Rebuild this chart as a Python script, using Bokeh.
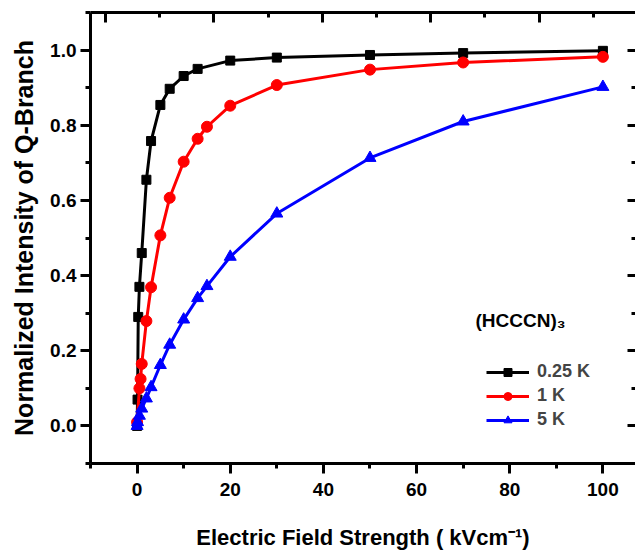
from bokeh.plotting import figure
from bokeh.models import (Range1d, LinearAxis, SingleIntervalTicker, Legend, LegendItem, Label,
                          NumeralTickFormatter, CustomJSTickFormatter)
from bokeh.embed import file_html
from bokeh.resources import INLINE

# ---- data ----
field_025K = [0, 0.1, 0.25, 0.5, 1, 2, 3, 5, 7, 10, 13, 20, 30, 50, 70, 100]
inten_025K = [0, 0.07, 0.29, 0.37, 0.46, 0.655, 0.758, 0.854, 0.897, 0.931, 0.95, 0.972, 0.98, 0.987, 0.992, 0.998]

field_1K = [0, 0.5, 0.75, 1, 2, 3, 5, 7, 10, 13, 15, 20, 30, 50, 70, 100]
inten_1K = [0.01, 0.10, 0.125, 0.165, 0.279, 0.369, 0.507, 0.607, 0.703, 0.764, 0.796, 0.852, 0.907, 0.948, 0.967, 0.982]

field_5K = [0, 0.1, 0.5, 1, 2, 3, 5, 7, 10, 13, 15, 20, 30, 50, 70, 100]
inten_5K = [0, 0.01, 0.027, 0.046, 0.073, 0.103, 0.162, 0.216, 0.283, 0.34, 0.372, 0.45, 0.565, 0.713, 0.81, 0.902]

legend_title = "(HCCCN)\u2083"
series_labels = ["0.25 K", "1 K", "5 K"]
x_title = "Electric Field Strength ( kVcm\u207b\u00b9)"
y_title = "Normalized Intensity of Q-Branch"

FONT = "Liberation Sans"

p = figure(width=635, height=552, output_backend="svg", toolbar_location=None,
           x_range=Range1d(-10, 107.0), y_range=Range1d(-0.1, 1.1),
           min_border_left=90, min_border_right=0, min_border_top=12, min_border_bottom=89,
           x_axis_location=None, y_axis_location=None)
p.outline_line_color = None
p.grid.visible = False
p.background_fill_color = "white"
p.border_fill_color = "white"

p.extra_x_ranges = {"top": Range1d(-2.78, 97.8)}

def style_axis(ax, tick_in, tick_out):
    ax.axis_line_width = 3
    ax.axis_line_color = "black"
    ax.major_tick_line_width = 3
    ax.minor_tick_line_width = 3
    ax.major_tick_in = tick_in
    ax.major_tick_out = tick_out
    ax.minor_tick_in = tick_in // 2
    ax.minor_tick_out = tick_out // 2
    ax.major_label_text_font = FONT
    ax.major_label_text_font_style = "bold"
    ax.major_label_text_font_size = "19px"
    ax.major_label_text_color = "black"
    ax.axis_label_text_font = FONT
    ax.axis_label_text_font_style = "bold"
    ax.axis_label_text_color = "black"

bottom = LinearAxis(ticker=SingleIntervalTicker(interval=20, num_minor_ticks=2), axis_label=x_title)
style_axis(bottom, 0, 10)
bottom.major_label_standoff = 9
bottom.axis_label_standoff = 26
bottom.axis_label_text_font_size = "22px"
p.add_layout(bottom, "below")

left = LinearAxis(ticker=SingleIntervalTicker(interval=0.2, num_minor_ticks=2), axis_label=y_title,
                  formatter=NumeralTickFormatter(format="0.0"))
style_axis(left, 0, 10)
left.major_label_standoff = 4
left.axis_label_standoff = 9
left.axis_label_text_font_size = "25px"
p.add_layout(left, "left")

blank = CustomJSTickFormatter(code="return ''")

top = LinearAxis(x_range_name="top", ticker=SingleIntervalTicker(interval=20, num_minor_ticks=2),
                 formatter=blank)
style_axis(top, 10, 0)
top.major_label_standoff = 0
p.add_layout(top, "above")

right = LinearAxis(ticker=SingleIntervalTicker(interval=0.2, num_minor_ticks=2), formatter=blank)
style_axis(right, 8, 0)
right.axis_line_alpha = 0
right.major_label_standoff = 0
p.add_layout(right, "right")

series = [
    (field_025K, inten_025K, "black", "square", 9),
    (field_1K, inten_1K, "#ff0000", "circle", 11),
    (field_5K, inten_5K, "#0000ff", "triangle", 12),
]
items = []
for (xs, ys, col, mk, sz), lab in zip(series, series_labels):
    r1 = p.line(xs, ys, line_color=col, line_width=3)
    r2 = p.scatter(xs, ys, marker=mk, size=sz, fill_color=col, line_color=col)
    items.append(LegendItem(label=lab, renderers=[r1, r2]))

legend = Legend(items=items, location=(396, 33), padding=0, margin=0,
                border_line_color=None, background_fill_alpha=0,
                glyph_width=43, glyph_height=20, label_height=20, spacing=3,
                label_text_font=FONT, label_text_font_style="bold",
                label_text_font_size="18px", label_standoff=8)
p.add_layout(legend, "center")

title_lbl = Label(x=385, y=133, x_units="screen", y_units="screen", text=legend_title,
                  text_font=FONT, text_font_style="bold", text_font_size="19px",
                  text_color="black")
p.add_layout(title_lbl)

open("out.html", "w").write(file_html(p, INLINE))
